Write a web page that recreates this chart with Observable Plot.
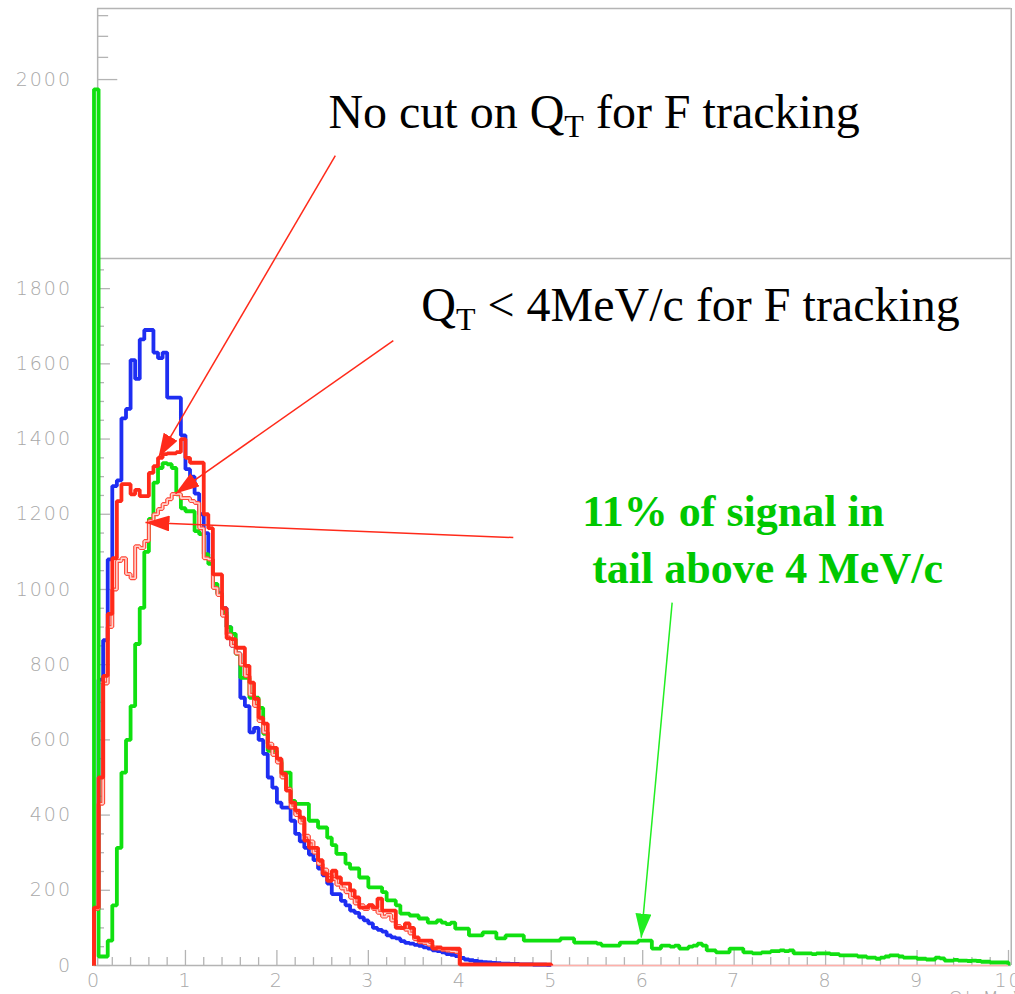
<!DOCTYPE html>
<html><head><meta charset="utf-8">
<script src="https://cdn.jsdelivr.net/npm/d3@7"></script>
<script src="https://cdn.jsdelivr.net/npm/@observablehq/plot@0.6"></script>
<style>
html,body{margin:0;padding:0;background:#fff;overflow:hidden}
#chart svg{display:block}
g[aria-label="y-axis tick label"] text, g[aria-label="x-axis tick label"] text {letter-spacing:2px}
</style></head><body><div id="chart"></div>
<script>
// ---- data (Qt in MeV/c, bin width 0.05) ----
const binWidth = 0.05;

const blueCounts = [
  150,760,865,1080,1275,1290,1455,1480,1610,1560,
  1665,1690,1690,1630,1615,1630,1510,1510,1510,1410,
  1320,1300,1255,1200,1150,1080,1005,990,950,900,
  850,830,712,690,620,632,600,563,500,473,
  433,420,420,385,350,330,313,295,280,258,
  240,218,190,190,172,160,146,140,128,120,
  112,100,95,90,80,75,72,65,60,58,
  55,52,48,45,40,38,35,30,28,25,
  20,16,14,12,10,9,8,7,6,5,
  5,4,4,3,3,3,2,2,2,1
];

const redNoCutCounts = [
  154,500,770,935,1083,1235,1280,1280,1253,1265,
  1248,1248,1310,1328,1350,1360,1362,1362,1365,1400,
  1350,1337,1337,1337,1200,1163,1040,1040,950,870,
  868,845,845,797,752,709,659,643,579,579,
  550,510,465,433,412,393,332,313,313,280,
  244,225,252,234,218,218,200,181,154,154,
  160,154,178,146,146,146,100,100,112,100,
  75,66,66,66,45,48,45,45,45,45,
  3,3,3,3,3,3,3,3,3,3,
  3,3,3,3,3,3,3,3,3,3
];

const pinkCutCounts = [
  150,430,750,900,1000,1076,1083,1041,1030,1115,
  1110,1129,1182,1200,1214,1227,1240,1254,1254,1243,
  1243,1235,1230,1163,1083,1080,1004,985,930,880,
  850,830,800,770,720,690,650,620,590,560,
  540,500,470,420,400,380,345,330,300,270,
  255,240,230,215,205,195,180,165,160,150,
  160,150,140,130,135,120,105,100,95,85,
  70,62,60,55,48,45,42,40,38,36
];

const greenCounts = [
  2330,24,24,66,160,313,513,600,690,855,
  951,1100,1188,1284,1323,1336,1333,1323,1253,1216,
  1208,1208,1155,1147,1094,1068,1015,988,940,900,
  882,829,765,765,712,712,685,616,571,571,
  545,513,513,438,430,430,430,385,385,367,
  367,340,320,297,297,271,258,258,234,234,
  208,208,208,195,173,173,160,138,138,133,
  133,125,125,114,114,120,114,110,114,98,
  98,98,80,80,80,88,88,88,72,72,
  80,80,80,80,66,66,66,66,66,66,
  66,66,72,72,72,61,61,61,61,61,
  58,53,53,53,53,61,61,61,61,66,
  66,66,45,45,53,53,50,53,45,45,
  50,53,58,53,40,40,35,35,35,45,
  45,45,35,35,32,32,35,35,38,38,
  40,38,40,32,32,32,32,30,32,32,
  32,30,30,27,27,27,27,24,24,21,
  21,18,21,24,27,27,24,21,21,21,
  18,18,16,16,21,19,13,13,15,13,
  13,12,13,12,10,10,8,8,8,8
];

// axis ticks
const xDomain = [0, 10];
const yTop = 2545;          // top of the outer frame (value units)
const innerTop = 1880;      // top of the inner frame
const xMajor = d3.range(0, 11, 1);
const xMinor = d3.range(0, 10.01, 0.2).filter(v => Math.abs(v - Math.round(v)) > 1e-6);
const yMajor = [0, 200, 400, 600, 800, 1000, 1200, 1400, 1600, 1800];
const yMinor = d3.range(50, 1851, 50).filter(v => v % 200 !== 0);
const upperMinor = [2526, 2471, 2415];
const upperMajor = [2356];
const upperLabels = ["2000"];
const xTitle = ["Qt MeV/c"];

// annotations
const notes = [
  {text: "No cut on Q_T for F tracking", x: 2.563, y: 2228},
  {text: "Q_T < 4MeV/c for F tracking", x: 3.579, y: 1715}
];
const greenNotes = [
  {text: "11% of signal in", x: 5.339, y: 1170},
  {text: "tail above 4 MeV/c", x: 5.448, y: 1016}
];
const redArrows = [
  {x1: 2.639, y1: 2154, x2: 0.705, y2: 1351},
  {x1: 3.273, y1: 1662, x2: 0.891, y2: 1255},
  {x1: 4.585, y1: 1138, x2: 0.563, y2: 1178}
];
const greenArrows = [
  {x1: 6.322, y1: 965, x2: 5.984, y2: 74}
];

// ---- build step outlines ----
function steps(counts) {
  const pts = [{x: 0, y: 0}];
  counts.forEach((v, i) => pts.push({x: i * binWidth, y: v}));
  pts.push({x: counts.length * binWidth, y: counts[counts.length - 1]});
  pts.push({x: counts.length * binWidth, y: 0});
  return pts;
}
const blue = steps(blueCounts);
const redNC = steps(redNoCutCounts);
const pink = steps(pinkCutCounts);
const green = steps(greenCounts);

const gray = "#b4b4b4";
const labelGray = "#a8a8a8";
const C = {blue: "#1e2ef2", green: "#10e010", red: "#ff2a1a", pinkOuter: "#ff4a3a", pinkInner: "#ffd2cc", arrowGreen: "#22ee22"};
const lineOpts = {x: "x", y: "y", curve: "step-after", strokeLinejoin: "miter", strokeLinecap: "butt"};
const labelFont = {fontSize: 19, fontFamily: "DejaVu Sans", fontWeight: 300, fill: labelGray};

const plot = Plot.plot({
  width: 1015, height: 994,
  marginLeft: 93.5, marginRight: 7, marginTop: 8, marginBottom: 29,
  x: {domain: xDomain, axis: null},
  y: {domain: [0, yTop], axis: null},
  style: {background: "#fff"},
  marks: [
    // frames
    Plot.ruleY([yTop, innerTop], {x1: 0.04, x2: 10.03, stroke: gray, strokeWidth: 1.5}),
    Plot.ruleX([0.04, 10.03], {y1: 0, y2: yTop, stroke: gray, strokeWidth: 1.5}),
    Plot.ruleY([0], {x1: 0, x2: 10.03, stroke: gray, strokeWidth: 1.5}),
    // ticks (inward)
    Plot.ruleX(xMajor, {y1: 0, y2: 40, stroke: gray, strokeWidth: 1.3}),
    Plot.ruleX(xMinor, {y1: 0, y2: 21, stroke: gray, strokeWidth: 1.3}),
    Plot.ruleY(yMajor, {x1: 0.04, x2: 0.18, stroke: gray, strokeWidth: 1.3}),
    Plot.ruleY(yMinor, {x1: 0.04, x2: 0.115, stroke: gray, strokeWidth: 1.3}),
    Plot.ruleY(upperMinor, {x1: 0.04, x2: 0.16, stroke: gray, strokeWidth: 1.3}),
    Plot.ruleY(upperMajor, {x1: 0.04, x2: 0.26, stroke: gray, strokeWidth: 1.3}),
    // tick labels
    Plot.axisX(xMajor, {tickSize: 0, tickPadding: 8, ...labelFont, tickFormat: d => String(d)}),
    Plot.axisY(yMajor, {tickSize: 0, tickPadding: 22, ...labelFont, tickFormat: d => String(d)}),
    Plot.text(upperMajor, {x: 0, y: d => d, text: (d, i) => upperLabels[i], dx: -22, textAnchor: "end", ...labelFont}),
    Plot.text(xTitle, {x: 9.34, y: -104, text: d => d, textAnchor: "start", lineAnchor: "bottom", ...labelFont}),
    // histograms
    Plot.line(blue, {...lineOpts, stroke: C.blue, strokeWidth: 3.8}),
    Plot.line(green, {...lineOpts, stroke: C.green, strokeWidth: 3.8}),
    Plot.ruleY([0], {x1: pinkCutCounts.length * binWidth, x2: xDomain[1], stroke: "#ffb0aa", strokeWidth: 1.6}),
    Plot.line(pink, {...lineOpts, stroke: C.pinkOuter, strokeWidth: 4}),
    Plot.line(pink, {...lineOpts, stroke: C.pinkInner, strokeWidth: 1.6}),
    Plot.line(redNC, {...lineOpts, stroke: C.red, strokeWidth: 3.8}),
    // arrows
    Plot.link(redArrows, {x1: "x1", y1: "y1", x2: "x2", y2: "y2", stroke: C.red, strokeWidth: 1.5}),
    Plot.link(greenArrows, {x1: "x1", y1: "y1", x2: "x2", y2: "y2", stroke: C.arrowGreen, strokeWidth: 1.5}),
    // notes
    Plot.text(notes, {x: "x", y: "y", text: "text", textAnchor: "start", lineAnchor: "bottom", fontSize: 48, fontFamily: "Liberation Serif", fill: "#000"}),
    Plot.text(greenNotes, {x: "x", y: "y", text: "text", textAnchor: "start", lineAnchor: "bottom", fontSize: 44, fontWeight: "bold", fontFamily: "Liberation Serif", fill: "#00c800"})
  ]
});
document.getElementById("chart").appendChild(plot);

// ---- post-processing: filled arrowheads, subscripts, spacing ----
const svgEl = plot.tagName.toLowerCase() === "svg" ? plot : plot.querySelector("svg");
const svg = d3.select(svgEl);
const defs = svg.insert("defs", ":first-child");
function marker(id, color) {
  defs.append("marker").attr("id", id)
    .attr("viewBox", "0 0 24 16").attr("refX", 24).attr("refY", 8)
    .attr("markerWidth", 24).attr("markerHeight", 16)
    .attr("markerUnits", "userSpaceOnUse").attr("orient", "auto")
    .append("path").attr("d", "M0,0 L24,8 L0,16 Z").attr("fill", color);
}
marker("head-red", C.red);
marker("head-green", C.arrowGreen);
svgEl.querySelectorAll('g[aria-label="link"]').forEach(g => {
  const s = (g.getAttribute("stroke") || "").toLowerCase();
  const id = s === C.red ? "head-red" : s === C.arrowGreen ? "head-green" : null;
  if (!id) return;
  g.querySelectorAll("path, line").forEach(p => p.setAttribute("marker-end", `url(#${id})`));
});
svgEl.querySelectorAll('g[aria-label="text"]').forEach(g => {
  if ((g.getAttribute("fill") || "").toLowerCase() === labelGray) g.style.letterSpacing = "2px";
});

svgEl.querySelectorAll("text").forEach(el => {
  const t = el.textContent;
  const i = t.indexOf("_T");
  if (i < 0) return;
  const s = d3.select(el);
  s.text(null);
  s.append("tspan").text(t.slice(0, i));
  s.append("tspan").attr("dy", 9).attr("font-size", 32).text("T");
  s.append("tspan").attr("dy", -9).text(t.slice(i + 2));
});
</script></body></html>
